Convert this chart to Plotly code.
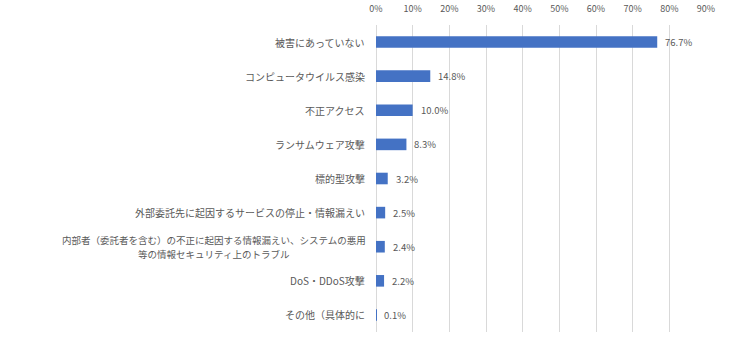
import plotly.graph_objects as go

# Survey categories (top to bottom) and share of respondents
categories = [
    "被害にあっていない",
    "コンピュータウイルス感染",
    "不正アクセス",
    "ランサムウェア攻撃",
    "標的型攻撃",
    "外部委託先に起因するサービスの停止・情報漏えい",
    "内部者（委託者を含む）の不正に起因する情報漏えい、システムの悪用<br>等の情報セキュリティ上のトラブル",
    "DoS・DDoS攻撃",
    "その他（具体的に",
]
values = [76.7, 14.8, 10.0, 8.3, 3.2, 2.5, 2.4, 2.2, 0.1]
tick_values = [0, 10, 20, 30, 40, 50, 60, 70, 80, 90]
tick_labels = [f"{t}%" for t in tick_values]

FONT = "Noto Sans CJK JP, Meiryo, sans-serif"
GRAY = "#595959"

fig = go.Figure(
    go.Bar(
        x=values,
        y=categories,
        orientation="h",
        marker=dict(color="#4472C4", line=dict(width=0)),
        width=0.34,
        hoverinfo="x+y",
    )
)

# Value labels just right of each bar end
for cat, v in zip(categories, values):
    fig.add_annotation(
        x=v, xref="x", y=cat, yref="y",
        text=f"{v:.1f}%", showarrow=False,
        xanchor="left", xshift=6,
        font=dict(family=FONT, size=9.5, color=GRAY),
    )

# Category labels; multi-line labels are laid out line by line, centred
for cat in categories:
    lines = cat.split("<br>")
    if len(lines) == 1:
        fig.add_annotation(
            x=0, xref="paper", y=cat, yref="y",
            text=cat, showarrow=False,
            xanchor="right", xshift=-9,
            font=dict(family=FONT, size=10, color=GRAY),
        )
    else:
        fig.add_annotation(
            x=0, xref="paper", y=cat, yref="y",
            text=lines[0], showarrow=False, borderpad=0,
            xanchor="right", xshift=-9, yshift=6.5,
            font=dict(family=FONT, size=9.5, color=GRAY),
        )
        fig.add_annotation(
            x=0, xref="paper", y=cat, yref="y",
            text=lines[1], showarrow=False, borderpad=0,
            xanchor="center", xshift=-9 - 153, yshift=-7.5,
            font=dict(family=FONT, size=9.5, color=GRAY),
        )

fig.update_layout(
    width=752, height=347,
    margin=dict(l=376, r=46, t=25, b=15),
    paper_bgcolor="white", plot_bgcolor="white",
    showlegend=False,
    xaxis=dict(
        range=[0, 90], side="top", automargin=False,
        tickvals=tick_values, ticktext=tick_labels,
        tickfont=dict(family=FONT, size=9, color=GRAY),
        showgrid=True, gridcolor="#d9d9d9", gridwidth=1,
        zeroline=True, zerolinecolor="#d9d9d9", zerolinewidth=1,
        showline=False, ticks="", fixedrange=True, ticklabelstandoff=10,
    ),
    yaxis=dict(
        autorange="reversed", showticklabels=False, automargin=False,
        showgrid=False, zeroline=False, showline=False, ticks="",
    ),
)

fig.write_html("out.html")
